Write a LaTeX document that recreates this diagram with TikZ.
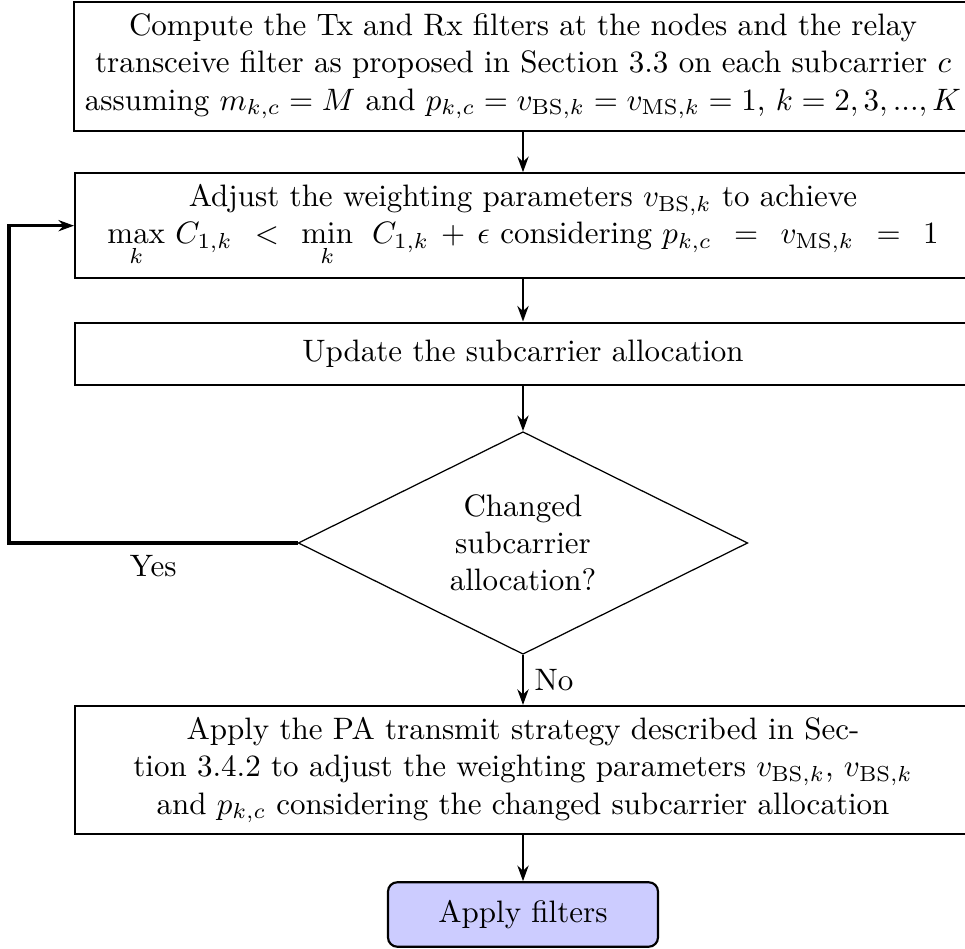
\documentclass[tikz,border=0pt]{standalone}
\usepackage{amsmath}
\usetikzlibrary{shapes.geometric,arrows.meta}
\begin{document}
\begin{tikzpicture}[x=0.3226pt,y=-0.3226pt,
  procbox/.style={draw,line width=0.7pt,rectangle,minimum width=289pt,
    align=center,inner xsep=3.5pt},
  decide/.style={draw,diamond,shape aspect=2,inner sep=0pt,minimum width=145pt,
    minimum height=71.8pt,align=center},
  finalbox/.style={draw,line width=0.7pt,rounded corners=3pt,fill=blue!20,
    minimum width=87.1pt,minimum height=20.8pt},
  tip/.style={-{Stealth[length=5pt,width=3.6pt]}},
  flow/.style={line width=0.9pt,tip},
  loopback/.style={line width=1.1pt,tip}]
\useasboundingbox (0,0) rectangle (965,949);

% processing steps
\node[procbox,minimum height=41.8pt] (init) at (523,66.5)
  {Compute the Tx and Rx filters at the nodes and the relay\\
   transceive filter as proposed in Section 3.3 on each subcarrier $c$\\
   assuming $m_{k,c} = M$ and $p_{k,c} = v_{\mathrm{BS},k} = v_{\mathrm{MS},k} = 1$, $k = 2, 3, ..., K$};
\node[procbox,minimum height=33.8pt] (adj) at (523,225.7)
  {Adjust the weighting parameters $v_{\mathrm{BS},k}$ to achieve\\
   $\max\limits_{k}\, C_{1,k} \;\,<\;\, \min\limits_{k}\;\, C_{1,k} \,+\, \epsilon$ considering
   $p_{k,c} \;\,=\;\, v_{\mathrm{MS},k} \;\,=\;\, 1$};
\node[procbox,minimum height=20.1pt] (upd) at (523,353.8)
  {Update the subcarrier allocation};
\node[decide] (chk) at (523,543)
  {Changed\\subcarrier\\allocation?};
\node[procbox,minimum height=41.4pt] (pa) at (523,770.2)
  {Apply the PA transmit strategy described in Sec-\\
   tion 3.4.2 to adjust the weighting parameters $v_{\mathrm{BS},k}$, $v_{\mathrm{BS},k}$\\
   and $p_{k,c}$ considering the changed subcarrier allocation};
\node[finalbox] (fin) at (523,914.5) {Apply filters};

% connectors
\draw[flow] (init.south) -- (adj.north);
\draw[flow] (adj.south) -- (upd.north);
\draw[flow] (upd.south) -- (chk.north);
\draw[flow] (chk.south) -- node[right] {No} (pa.north);
\draw[flow] (pa.south) -- (fin.north);

% feedback loop
\coordinate (corner) at (9,543);
\draw[loopback] (chk.west) -- node[below] {Yes} (corner) |- (adj.west);
\end{tikzpicture}
\end{document}
